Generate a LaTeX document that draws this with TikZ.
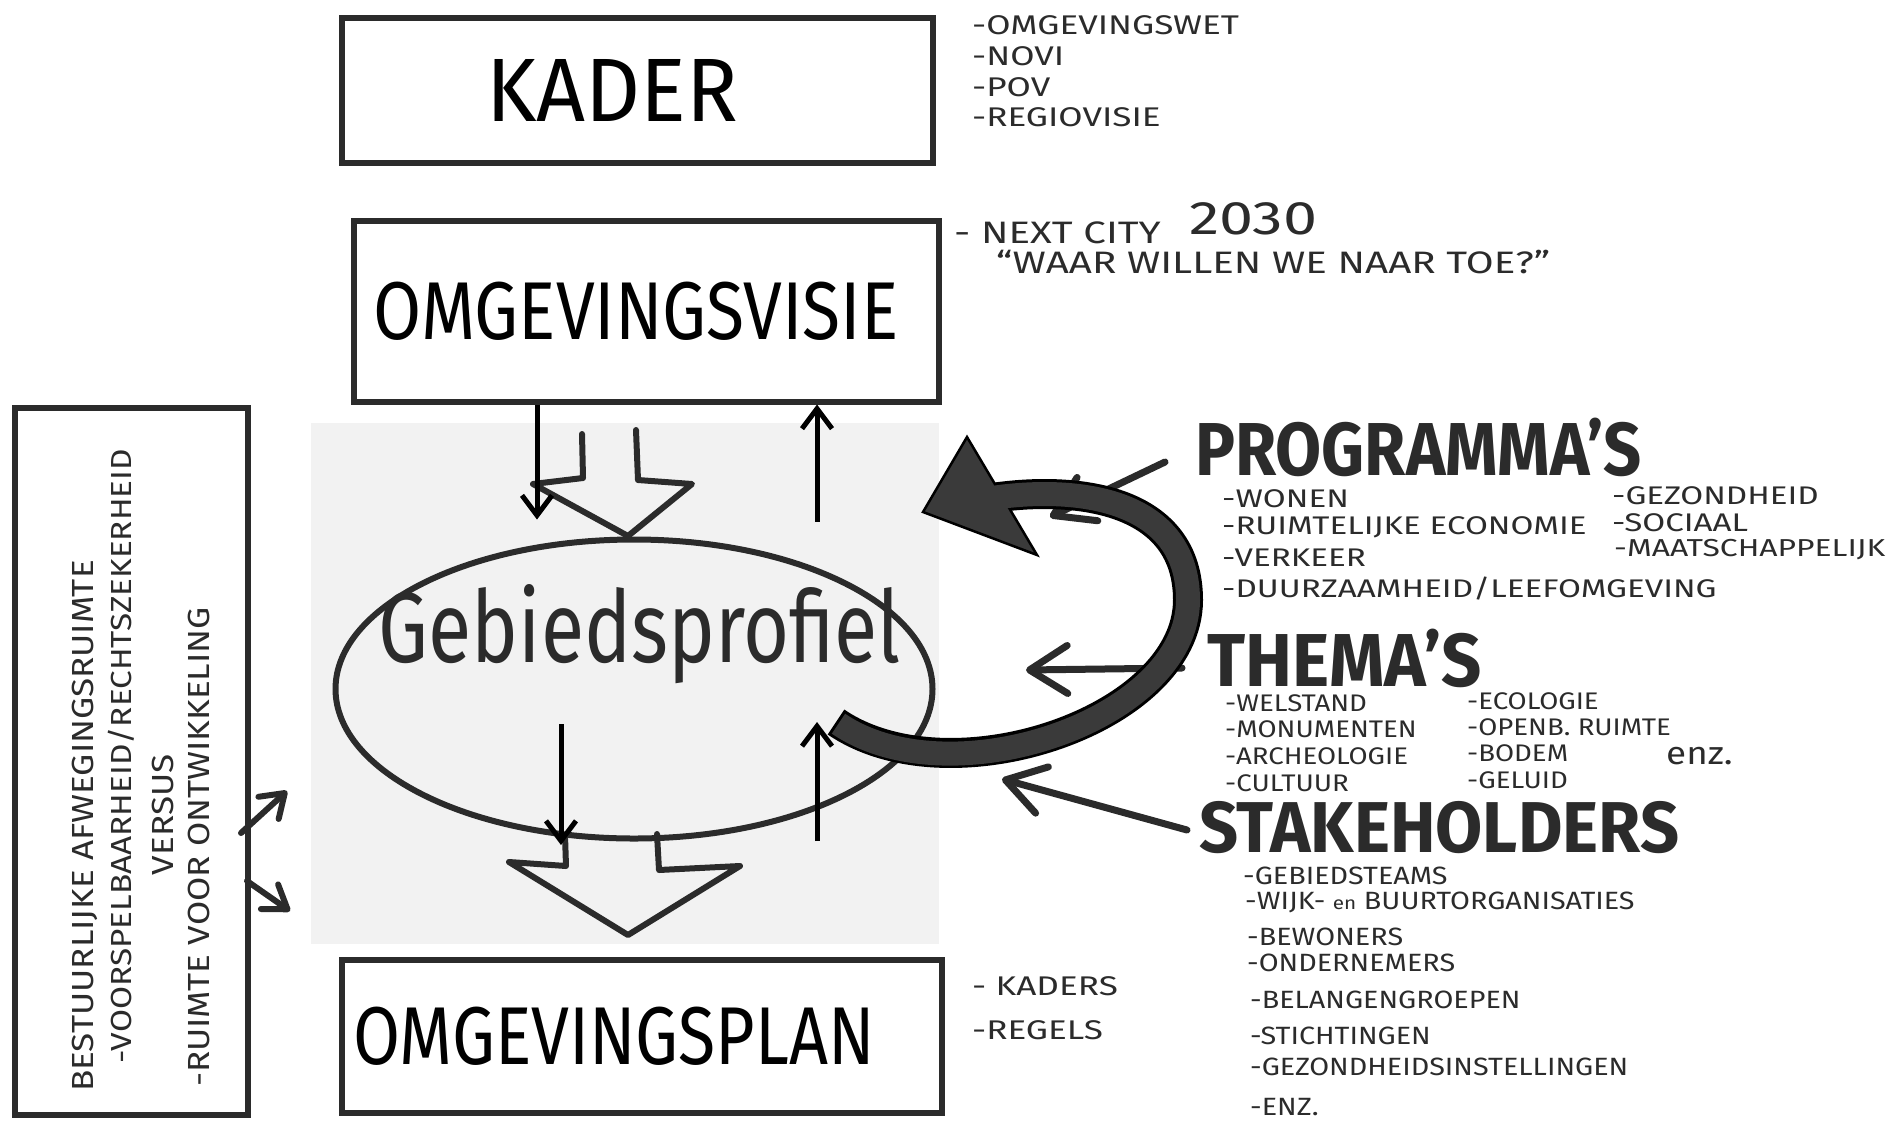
\documentclass[tikz,border=0pt]{standalone}
\usepackage{fontspec}
\setmainfont{Fira Sans}
\newfontfamily\handA[FakeStretch=1.3,Ligatures=TeX]{Fira Sans}
\newfontfamily\handB[FakeStretch=1.15,Ligatures=TeX]{Fira Sans}
\usetikzlibrary{arrows.meta,shapes.geometric}
\definecolor{ink}{HTML}{2B2B2B}
\definecolor{lus}{HTML}{3A3A3A}
\newcommand{\handw}[2][.8]{\scalebox{#1}[1]{#2}}

\begin{document}
\begin{tikzpicture}[x=1pt,y=-1pt,
  doos/.style={draw=ink, line width=6pt, inner sep=0pt},
  kop/.style={inner sep=0pt, text=ink},
  item/.style={anchor=west, inner sep=0pt, text=ink, font=\handA\fontsize{27}{27}\selectfont},
  lijst/.style={anchor=west, inner sep=0pt, text=ink, font=\handA\fontsize{25.5}{25.5}\selectfont},
  klein/.style={anchor=west, inner sep=0pt, text=ink, font=\handB\fontsize{24}{24}\selectfont},
  regel/.style={anchor=west, rotate=90, inner sep=0pt, text=ink, font=\handB\fontsize{30.5}{30.5}\selectfont},
  pijl/.style={black, line width=5pt, -{Straight Barb[length=20pt,width=30pt]}},
  handpijl/.style={ink, line width=7pt, line cap=round, -{Straight Barb[length=38pt,width=48pt,round]}},
  kleinpijl/.style={ink, line width=6pt, line cap=round, -{Straight Barb[length=22pt,width=30pt,round]}},
  holpijl/.style={ink, line width=6pt, line join=round, line cap=round}]
\useasboundingbox (0,0) rectangle (1893,1128);

\node[fill=black!5, minimum width=628pt, minimum height=521pt, inner sep=0pt] (veld) at (625,683.5) {};

\node[doos, minimum width=591pt, minimum height=145pt, font=\fontsize{90}{90}\selectfont] (kader) at (637,90) {\handw[.95]{KADER}\hspace*{50pt}};
\node[doos, minimum width=585pt, minimum height=181pt, font=\fontsize{82}{82}\selectfont] (visie) at (646,311) {\handw[.85]{OMGEVINGSVISIE}\hspace*{20pt}};
\node[doos, minimum width=600pt, minimum height=153pt, font=\fontsize{82}{82}\selectfont] (plan) at (642,1036) {\handw[.83]{OMGEVINGSPLAN}\hspace*{56pt}};
\node[doos, ellipse, minimum width=597pt, minimum height=299pt] (profiel) at (634,689) {};
\node[kop, font=\fontsize{100}{100}\selectfont] (profielnaam) at (640,634) {\handw[.79]{Gebiedsprofiel}};

\node[doos, rotate=90, minimum width=707pt, minimum height=233pt] (afweging) at (131,761) {};
\node[regel] (r1) at (85,1092) {BESTUURLIJKE AFWEGINGSRUIMTE};
\node[regel, font=\handB\fontsize{29}{29}\selectfont] (r2) at (121,1064) {-VOORSPELBAARHEID/RECHTSZEKERHEID};
\node[regel, anchor=center] (r3) at (163,815) {VERSUS};
\node[regel] (r4) at (199,1087) {-RUIMTE VOOR ONTWIKKELING};

\node[item] (k1) at (972,25) {-OMGEVINGSWET};
\node[item] (k2) at (972,56) {-NOVI};
\node[item] (k3) at (972,87) {-POV};
\node[item] (k4) at (972,117) {-REGIOVISIE};

\node[item, font=\handA\fontsize{31}{31}\selectfont] (v1) at (954,233) {- NEXT CITY};
\node[item, font=\handA\fontsize{47}{47}\selectfont] (v2) at (1189,219) {2030};
\node[item, font=\handA\fontsize{31}{31}\selectfont] (v3) at (996,262) {``WAAR WILLEN WE NAAR TOE?''};

\node[item] (p1) at (972,986) {- KADERS};
\node[item] (p2) at (972,1030) {-REGELS};

\node[kop, anchor=base west, font=\bfseries\fontsize{75}{75}\selectfont] (prog) at (1195,475) {\handw[.89]{PROGRAMMA'S}};
\node[lijst] (pr1) at (1222,499) {-WONEN};
\node[lijst] (pr2) at (1222,527) {-RUIMTELIJKE ECONOMIE};
\node[lijst] (pr3) at (1222,558) {-VERKEER};
\node[lijst] (pr4) at (1222,589) {-DUURZAAMHEID/LEEFOMGEVING};
\node[lijst] (pr5) at (1612,496) {-GEZONDHEID};
\node[lijst] (pr6) at (1612,523) {-SOCIAAL};
\node[lijst, font=\handA\fontsize{24.5}{24.5}\selectfont] (pr7) at (1614,550) {-MAATSCHAPPELIJK};

\node[kop, anchor=base west, font=\bfseries\fontsize{75}{75}\selectfont] (thema) at (1207,686) {\handw[.94]{THEMA'S}};
\node[klein] (t1) at (1225,703) {-WELSTAND};
\node[klein] (t2) at (1225,729) {-MONUMENTEN};
\node[klein] (t3) at (1225,756) {-ARCHEOLOGIE};
\node[klein] (t4) at (1225,783) {-CULTUUR};
\node[klein] (t5) at (1467,701) {-ECOLOGIE};
\node[klein] (t6) at (1467,727) {-OPENB. RUIMTE};
\node[klein] (t7) at (1467,753) {-BODEM};
\node[klein] (t8) at (1467,780) {-GELUID};
\node[item, font=\handB\fontsize{32}{32}\selectfont] (t9) at (1666,756) {enz.};

\node[kop, anchor=base west, font=\bfseries\fontsize{72}{72}\selectfont] (stake) at (1199,852) {\handw[.95]{STAKEHOLDERS}};
\node[klein, font=\handB\fontsize{25}{25}\selectfont] (s1) at (1243,876) {-GEBIEDSTEAMS};
\node[klein, font=\handB\fontsize{25}{25}\selectfont] (s2) at (1245,902) {-WIJK- {\fontsize{18}{18}\selectfont en} BUURTORGANISATIES};
\node[klein, font=\handB\fontsize{25}{25}\selectfont] (s3) at (1247,937) {-BEWONERS};
\node[klein, font=\handB\fontsize{25}{25}\selectfont] (s4) at (1247,963) {-ONDERNEMERS};
\node[klein, font=\handB\fontsize{25}{25}\selectfont] (s5) at (1250,1000) {-BELANGENGROEPEN};
\node[klein, font=\handB\fontsize{25}{25}\selectfont] (s6) at (1250,1036) {-STICHTINGEN};
\node[klein, font=\handB\fontsize{25}{25}\selectfont] (s7) at (1250,1067) {-GEZONDHEIDSINSTELLINGEN};
\node[klein, font=\handB\fontsize{25}{25}\selectfont] (s8) at (1250,1107) {-ENZ.};

\draw[holpijl] (582,434) -- (583,478) -- (533,484) -- (628,536) -- (692,484) -- (638,480) -- (636,430);
\draw[holpijl] (565,835) -- (566,866) -- (509,862) -- (628,935) -- (740,866) -- (659,870) -- (657,834);

\draw[pijl] ([xshift=-109pt]visie.south) -- ++(0,115);
\draw[pijl] ([xshift=171pt,yshift=-117pt]visie.south) -- ([xshift=171pt]visie.south);
\draw[pijl] ([xshift=-73pt,yshift=-35pt]profiel.center) -- ++(0,121);
\draw[pijl] ([xshift=183pt,yshift=-152pt]profiel.center) -- ++(0,-119);

\coordinate (a1) at (241,833);
\coordinate (a2) at (247,881);
\draw[kleinpijl] (a1) -- (287,791);
\draw[kleinpijl] (a2) -- (290,911);

\coordinate (progpunt) at (1050,517);
\coordinate (themapunt) at (1026,670);
\coordinate (stakepunt) at (1002,779);
\draw[handpijl] ([xshift=-30pt,yshift=13pt]prog.base west) -- (progpunt);
\draw[handpijl] ([xshift=-25pt,yshift=18pt]thema.base west) -- (themapunt);
\draw[handpijl] ([xshift=-12pt,yshift=22pt]stake.base west) -- (stakepunt);

\coordinate (lusbegin) at (836,722);
\coordinate (luseind) at (992,498);
\draw[black, line width=30pt] (lusbegin) .. controls (950,800) and (1188,720) .. (1188,600) .. controls (1188,500) and (1080,485) .. (luseind);
\filldraw[fill=lus, draw=black, line width=2.5pt, line join=miter] (923,512) -- (967,437) -- (1037,555) -- cycle;
\draw[lus, line width=24pt, shorten <=3pt] (lusbegin) .. controls (950,800) and (1188,720) .. (1188,600) .. controls (1188,500) and (1080,485) .. (luseind);
\end{tikzpicture}
\end{document}
